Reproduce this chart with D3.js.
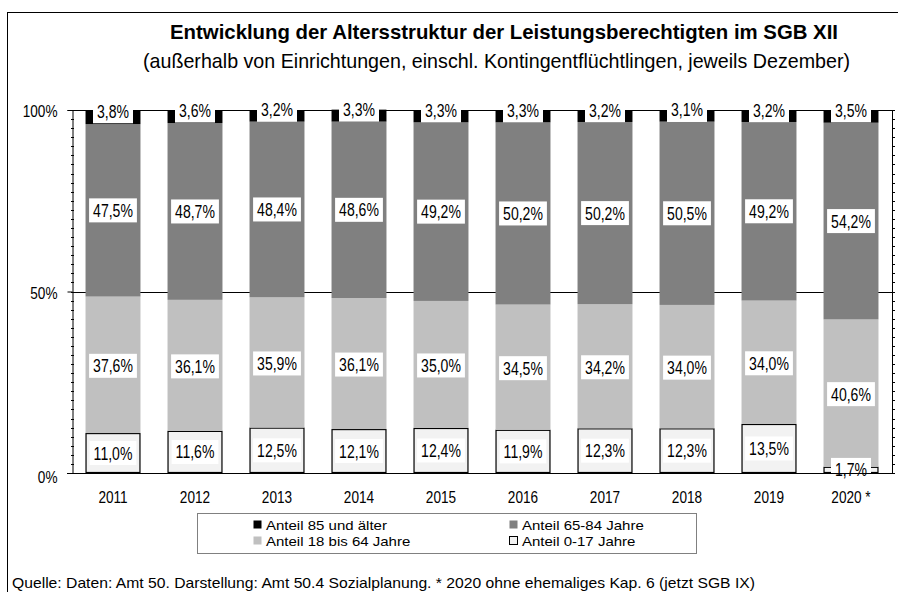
<!DOCTYPE html>
<html>
<head>
<meta charset="utf-8">
<script src="https://cdn.jsdelivr.net/npm/d3@7"></script>
<style>
  html, body { margin: 0; padding: 0; background: #fff; }
  svg { display: block; font-family: "Liberation Sans", Arial, sans-serif; }
</style>
</head>
<body>
<svg id="chart" width="898" height="592"></svg>
<script>
const years = ["2011", "2012", "2013", "2014", "2015", "2016", "2017", "2018", "2019", "2020 *"];
const age0to17 = [11.0, 11.6, 12.5, 12.1, 12.4, 11.9, 12.3, 12.3, 13.5, 1.7];
const age18to64 = [37.6, 36.1, 35.9, 36.1, 35.0, 34.5, 34.2, 34.0, 34.0, 40.6];
const age65to84 = [47.5, 48.7, 48.4, 48.6, 49.2, 50.2, 50.2, 50.5, 49.2, 54.2];
const age85plus = [3.8, 3.6, 3.2, 3.3, 3.3, 3.3, 3.2, 3.1, 3.2, 3.5];
const seriesNames = ["Anteil 0-17 Jahre", "Anteil 18 bis 64 Jahre", "Anteil 65-84 Jahre", "Anteil 85 und älter"];
const yTickLabels = ["0%", "50%", "100%"];
const titleText = "Entwicklung der Altersstruktur der Leistungsberechtigten im SGB XII";
const subtitleText = "(außerhalb von Einrichtungen, einschl. Kontingentflüchtlingen, jeweils Dezember)";
const sourceText = "Quelle: Daten: Amt 50. Darstellung: Amt 50.4 Sozialplanung.  * 2020 ohne ehemaliges Kap. 6 (jetzt SGB IX)";

const seriesData = [age0to17, age18to64, age65to84, age85plus];
const colors = ["#f2f2f2", "#c0c0c0", "#808080", "#000000"];
const labelOffsets = [0, 1, 0, -6];

const svg = d3.select("#chart");

function condense(sel, factor) {
  sel.each(function () {
    const w = this.getComputedTextLength();
    d3.select(this).attr("textLength", w * factor).attr("lengthAdjust", "spacingAndGlyphs");
  });
}
function fitWidth(sel, width) {
  sel.attr("textLength", width).attr("lengthAdjust", "spacingAndGlyphs");
}

// outer frame
svg.append("rect").attr("x", 7.5).attr("y", 12.5).attr("width", 900).attr("height", 600)
  .attr("fill", "none").attr("stroke", "#000").attr("stroke-width", 1);

// titles
svg.append("text").attr("x", 504).attr("y", 39).attr("text-anchor", "middle")
  .attr("font-weight", "bold").attr("font-size", 21).text(titleText).call(fitWidth, 668);
svg.append("text").attr("x", 496.5).attr("y", 68).attr("text-anchor", "middle")
  .attr("font-size", 21).text(subtitleText).call(fitWidth, 707);

const margin = { left: 72, right: 892, top: 110, bottom: 473 };
const x = d3.scaleBand().domain(years).range([margin.left, margin.right]).paddingInner(0.33).paddingOuter(0.165);
const y = d3.scaleLinear().domain([0, 100]).range([margin.bottom, margin.top]);

const table = years.map((yr, i) => {
  const o = { year: yr };
  seriesNames.forEach((s, k) => { o[s] = seriesData[k][i]; });
  return o;
});
const stacked = d3.stack().keys(seriesNames)(table);

const g = svg.append("g");
g.append("line").attr("x1", margin.left).attr("x2", margin.right).attr("y1", y(100) + 0.5).attr("y2", y(100) + 0.5)
  .attr("stroke", "#000");
g.append("line").attr("x1", margin.right + 0.5).attr("x2", margin.right + 0.5).attr("y1", y(100)).attr("y2", y(0))
  .attr("stroke", "#000");
g.append("line").attr("x1", margin.left).attr("x2", margin.right).attr("y1", Math.round(y(50)) + 0.5).attr("y2", Math.round(y(50)) + 0.5)
  .attr("stroke", "#000");

// bars
stacked.forEach((layer, k) => {
  g.append("g").selectAll("rect").data(layer).join("rect")
    .attr("x", d => x(d.data.year) + (k === 0 ? 0.5 : 0))
    .attr("y", d => y(d[1]) + (k === 0 ? 0.5 : 0))
    .attr("width", d => x.bandwidth() - (k === 0 ? 1 : 0))
    .attr("height", d => y(d[0]) - y(d[1]) - (k === 0 ? 1 : 0))
    .attr("fill", colors[k])
    .attr("stroke", k === 0 ? "#000" : "none")
    .attr("stroke-width", 1.2);
});

// y axis
const yAxis = d3.axisLeft(y).tickValues([0, 50, 100]).tickSize(5).tickPadding(10)
  .tickFormat((d, i) => yTickLabels[i]);
const ya = svg.append("g").attr("transform", `translate(${margin.left + 0.5},0)`).call(yAxis);
ya.select(".domain").attr("stroke", "#000");
ya.selectAll("text").attr("font-size", 17).attr("font-family", "inherit").attr("fill", "#000")
  .attr("dy", "0.4em").call(condense, 0.8);
ya.selectAll(".tick").filter(d => d === 0).select("text").attr("dy", "0.55em");

const minor = d3.range(0, 100.01, 2.5);
svg.append("g").selectAll("line").data(minor).join("line")
  .attr("x1", margin.left - 1).attr("x2", margin.left + 2)
  .attr("y1", d => Math.round(y(d)) + 0.5).attr("y2", d => Math.round(y(d)) + 0.5)
  .attr("stroke", "#000");
svg.append("g").selectAll("line").data(minor).join("line")
  .attr("x1", margin.right).attr("x2", margin.right + 3)
  .attr("y1", d => Math.round(y(d)) + 0.5).attr("y2", d => Math.round(y(d)) + 0.5)
  .attr("stroke", "#000");

// x axis
const xAxis = d3.axisBottom(x).tickSize(0).tickPadding(0);
const xa = svg.append("g").attr("transform", `translate(0,${margin.bottom + 0.5})`).call(xAxis);
xa.select(".domain").attr("d", `M${margin.left - 5},0H${margin.right}`).attr("stroke", "#000");
xa.selectAll("text").attr("font-size", 17).attr("font-family", "inherit").attr("fill", "#000")
  .attr("dy", 0).attr("y", 29).call(condense, 0.8);

// value labels
const fmt = v => v.toFixed(1).replace(".", ",") + "%";
stacked.forEach((layer, k) => {
  const lg = g.append("g");
  layer.forEach(d => {
    const cx = x(d.data.year) + x.bandwidth() / 2;
    const cy = (y(d[0]) + y(d[1])) / 2 + labelOffsets[k];
    const t = lg.append("text").attr("x", cx).attr("y", cy).attr("dy", "0.36em")
      .attr("text-anchor", "middle").attr("font-size", 18).text(fmt(d.data[seriesNames[k]]));
    const w = t.node().getComputedTextLength() * 0.78;
    t.attr("textLength", w).attr("lengthAdjust", "spacingAndGlyphs");
    lg.insert("rect", () => t.node())
      .attr("x", cx - w / 2 - 4).attr("y", cy - 12).attr("width", w + 8).attr("height", 24)
      .attr("fill", "#fff");
  });
});

// legend
const leg = svg.append("g");
leg.append("rect").attr("x", 197.5).attr("y", 513.5).attr("width", 499).attr("height", 40)
  .attr("fill", "#fff").attr("stroke", "#808080");
const legOrder = [3, 2, 1, 0];
const legPos = [[253, 525], [509, 525], [253, 541], [509, 541]];
legOrder.forEach((k, i) => {
  const [lx, ly] = legPos[i];
  leg.append("rect").attr("x", lx + 0.5).attr("y", ly - 4.5).attr("width", 8).attr("height", 8)
    .attr("fill", colors[k]).attr("stroke", k === 0 ? "#000" : "none");
  leg.append("text").attr("x", lx + 13).attr("y", ly).attr("dy", "0.36em")
    .attr("font-size", 13.5).text(seriesNames[k]).call(condense, 15 / 13.5);
});

// source
svg.append("text").attr("x", 12).attr("y", 588).attr("font-size", 15).text(sourceText).call(fitWidth, 743);
</script>
</body>
</html>
